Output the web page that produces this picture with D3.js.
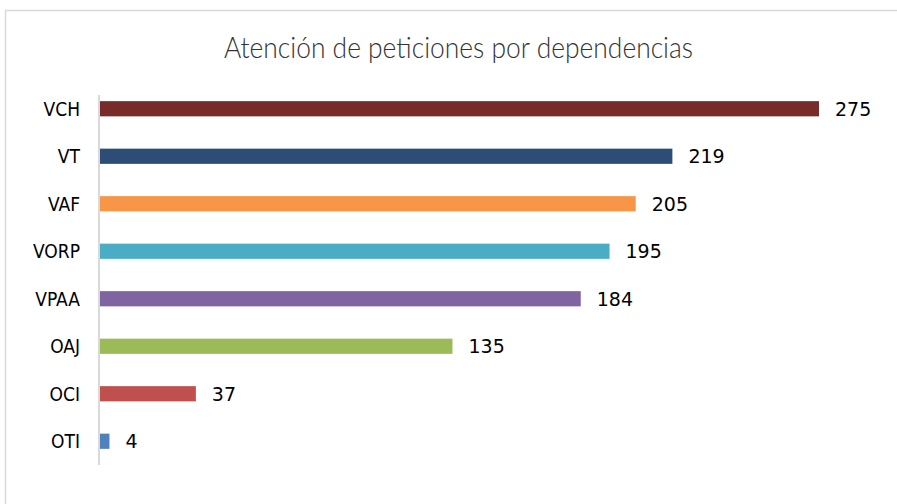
<!DOCTYPE html>
<html>
<head>
<meta charset="utf-8">
<script src="https://cdn.jsdelivr.net/npm/d3@7"></script>
<style>
  html, body { margin: 0; padding: 0; background: #fff; }
  svg { display: block; }
</style>
</head>
<body>
<svg id="chart" width="897" height="504"></svg>
<script>
// Peticiones atendidas por cada dependencia
const categories = ["VCH", "VT", "VAF", "VORP", "VPAA", "OAJ", "OCI", "OTI"];
const values = [275, 219, 205, 195, 184, 135, 37, 4];
const colors = ["#772C2A", "#2C4D75", "#F79646", "#4BACC6", "#8064A2", "#9BBB59", "#C0504D", "#4F81BD"];
const title = "Atención de peticiones por dependencias";

const svg = d3.select("#chart");
const W = 897, H = 504;

// Chart frame
svg.append("path")
  .attr("d", `M5.5,${H} V10.5 H${W}`)
  .attr("fill", "none")
  .attr("stroke", "#d9d9d9")
  .attr("stroke-width", 1.5);

svg.append("text")
  .attr("x", 224)
  .attr("y", 58)
  .attr("textLength", 469)
  .attr("lengthAdjust", "spacingAndGlyphs")
  .attr("font-family", "Lato, 'Open Sans', sans-serif")
  .attr("font-weight", 300)
  .attr("font-size", 29)
  .attr("fill", "#333")
  .text(title);

const x0 = 99;
const x = d3.scaleLinear().domain([0, 275]).range([x0, 819]);
const y = d3.scaleBand().domain(categories).range([85, 465]).paddingInner(0.68).paddingOuter(0.34);

// Category axis line
svg.append("line")
  .attr("x1", x0).attr("x2", x0)
  .attr("y1", 95).attr("y2", 465)
  .attr("stroke", "#d9d9d9")
  .attr("stroke-width", 2);

const rows = svg.selectAll("g.row")
  .data(categories.map((c, i) => ({ c, v: values[i], col: colors[i] })))
  .join("g")
  .attr("class", "row");

rows.append("rect")
  .attr("x", x(0) + 1)
  .attr("y", d => y(d.c))
  .attr("width", d => x(d.v) - x(0) - 1)
  .attr("height", y.bandwidth())
  .attr("fill", d => d.col);

rows.append("text")
  .attr("x", 80)
  .attr("y", d => y(d.c) + y.bandwidth() / 2)
  .attr("dy", "0.36em")
  .attr("text-anchor", "end")
  .attr("font-family", "'Liberation Sans Narrow', 'DejaVu Sans Condensed', sans-serif")
  .attr("font-size", 19)
  .attr("fill", "#000")
  .text(d => d.c);

rows.append("text")
  .attr("x", d => x(d.v) + 16)
  .attr("y", d => y(d.c) + y.bandwidth() / 2)
  .attr("dy", "0.38em")
  .attr("font-family", "'DejaVu Sans', sans-serif")
  .attr("font-size", 19)
  .attr("fill", "#000")
  .text(d => d.v);
</script>
</body>
</html>
